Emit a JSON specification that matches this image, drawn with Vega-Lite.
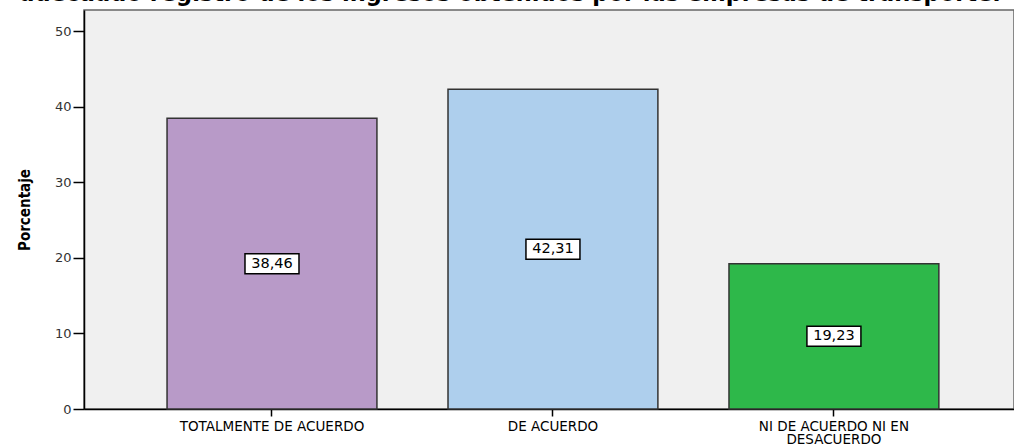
{
  "$schema": "https://vega.github.io/schema/vega-lite/v6.json",
  "autosize": "none",
  "width": 930,
  "height": 399,
  "padding": {"left": 84, "top": 10, "right": 0, "bottom": 36},
  "background": "white",
  "title": {
    "text": "adecuado registro de los ingresos obtenidos por las empresas de transporte.",
    "font": "DejaVu Sans",
    "fontSize": 22.5,
    "fontWeight": "bold",
    "color": "black",
    "baseline": "alphabetic",
    "offset": 2,
    "dy": 15.5,
    "dx": -39
  },
  "data": {
    "values": [
      {"categoria": "TOTALMENTE DE ACUERDO", "porcentaje": 38.46},
      {"categoria": "DE ACUERDO", "porcentaje": 42.31},
      {"categoria": "NI DE ACUERDO NI EN DESACUERDO", "porcentaje": 19.23}
    ]
  },
  "encoding": {
    "x": {
      "field": "categoria",
      "type": "nominal",
      "sort": null,
      "scale": {"paddingInner": 0.253, "paddingOuter": 0.2815, "align": 0.525},
      "axis": {
        "title": null,
        "labelAngle": 0,
        "labelFont": "DejaVu Sans",
        "labelFontSize": 13.5,
        "labelColor": "black",
        "labelPadding": 3,
        "labelLineHeight": 13,
        "labelBaseline": "top",
        "labelLimit": 400,
        "labelExpr": "datum.value == 'NI DE ACUERDO NI EN DESACUERDO' ? ['NI DE ACUERDO NI EN', 'DESACUERDO'] : datum.value",
        "domainColor": "black",
        "domainWidth": 1.5,
        "tickColor": "black",
        "tickSize": 7,
        "tickWidth": 1.5,
        "grid": false
      }
    }
  },
  "layer": [
    {
      "mark": {"type": "bar", "stroke": "#333333", "strokeWidth": 1.5},
      "encoding": {
        "y": {
          "field": "porcentaje",
          "type": "quantitative",
          "scale": {"domain": [0, 52.8], "nice": false, "zero": true},
          "axis": {
            "title": "Porcentaje",
            "titleFont": "DejaVu Sans Condensed",
            "titleFontSize": 15,
            "titleFontWeight": "bold",
            "titleColor": "black",
            "titlePadding": 22,
            "values": [0, 10, 20, 30, 40, 50],
            "labelFont": "DejaVu Sans",
            "labelFontSize": 13,
            "labelColor": "#333333",
            "labelPadding": 2,
            "domainColor": "black",
            "domainWidth": 1.5,
            "tickColor": "black",
            "tickSize": 11,
            "tickWidth": 1.5,
            "grid": false
          }
        },
        "color": {
          "field": "categoria",
          "type": "nominal",
          "scale": {
            "domain": ["TOTALMENTE DE ACUERDO", "DE ACUERDO", "NI DE ACUERDO NI EN DESACUERDO"],
            "range": ["#B89AC8", "#AECFED", "#2EB84A"]
          },
          "legend": null
        }
      }
    },
    {
      "encoding": {
        "y": {
          "field": "porcentaje",
          "type": "quantitative",
          "scale": {"domain": [0, 105.6], "nice": false, "zero": true},
          "axis": null
        }
      },
      "layer": [
        {
          "mark": {
            "type": "point",
            "shape": "M-1,-0.37H1V0.37H-1Z",
            "size": 2916,
            "filled": true,
            "fill": "white",
            "stroke": "black",
            "strokeWidth": 1.5,
            "opacity": 1
          }
        },
        {
          "mark": {
            "type": "text",
            "font": "DejaVu Sans",
            "fontSize": 14.5,
            "color": "black",
            "baseline": "middle",
            "align": "center"
          },
          "encoding": {
            "text": {"field": "porcentaje", "type": "quantitative", "format": ".2f"}
          }
        }
      ]
    }
  ],
  "resolve": {"scale": {"y": "independent"}},
  "config": {
    "locale": {
      "number": {"decimal": ",", "thousands": ".", "grouping": [3], "currency": ["", ""]}
    },
    "view": {"fill": "#F0F0F0", "stroke": "#666666", "strokeWidth": 1.5}
  }
}
